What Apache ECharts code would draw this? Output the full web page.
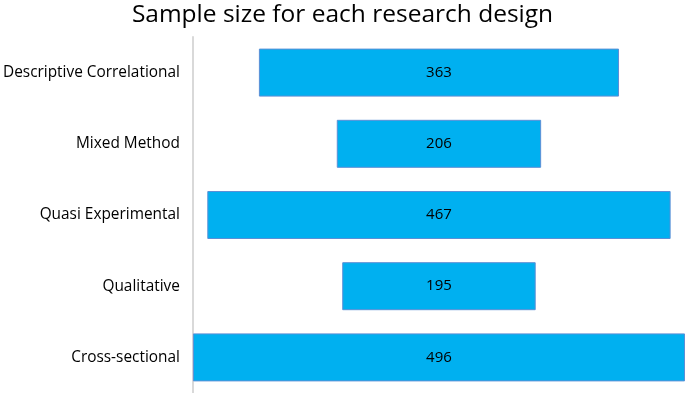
<!DOCTYPE html>
<html>
<head>
<meta charset="utf-8">
<script src="https://cdn.jsdelivr.net/npm/echarts@6/dist/echarts.min.js"></script>
<style>
	html, body { margin: 0; padding: 0; background: #fff; }
	#chart { width: 685px; height: 393px; }
</style>
</head>
<body>
<div id="chart"></div>
<script>
const designs = ['Descriptive Correlational', 'Mixed Method', 'Quasi Experimental', 'Qualitative', 'Cross-sectional']
const sampleSizes = [363, 206, 467, 195, 496]

const maxSize = Math.max(...sampleSizes)
// transparent offset so each bar sits centred like a funnel
const offsets = sampleSizes.map((v) => (maxSize - v) / 2)

const chart = echarts.init(document.getElementById('chart'))
chart.setOption({
	animation: false,
	textStyle: { fontFamily: '"Open Sans", sans-serif' },
	title: {
		text: 'Sample size for each research design',
		left: 'center',
		top: -2,
		textStyle: { fontSize: 24.5, fontWeight: 'normal', color: '#000', fontFamily: '"Open Sans", sans-serif' },
	},
	grid: { left: 190, right: 0, top: 37, height: 361 },
	xAxis: {
		type: 'value',
		min: 0,
		max: maxSize,
		show: false,
	},
	yAxis: {
		type: 'category',
		inverse: true,
		data: designs,
		axisLine: { show: true, lineStyle: { color: '#d9d9d9', width: 2 } },
		axisTick: { show: false },
		axisLabel: { color: '#000', fontSize: 15.4, margin: 13 },
	},
	series: [
		{
			type: 'bar',
			stack: 'funnel',
			data: offsets,
			itemStyle: { color: 'transparent' },
			barWidth: 48,
			silent: true,
		},
		{
			type: 'bar',
			stack: 'funnel',
			data: sampleSizes,
			barWidth: 48,
			itemStyle: { color: '#00b0f0', borderColor: '#5b8fd6', borderWidth: 1 },
			label: { show: true, position: 'inside', color: '#000', fontSize: 15 },
		},
	],
})
</script>
</body>
</html>
